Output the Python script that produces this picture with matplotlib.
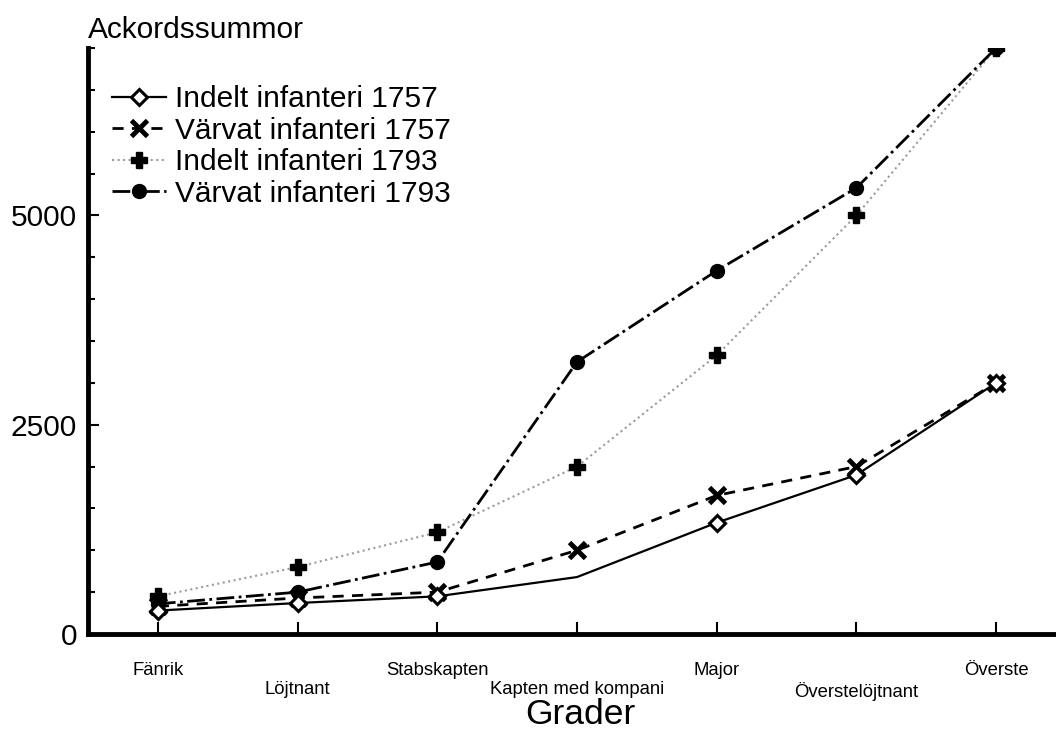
import matplotlib.pyplot as plt
from matplotlib.ticker import MultipleLocator

plt.rcParams['font.family'] = ['Liberation Sans', 'DejaVu Sans']

# Data
grader = ["Fänrik", "Löjtnant", "Stabskapten", "Kapten med kompani",
          "Major", "Överstelöjtnant", "Överste"]
indelt_1757 = [280, 370, 450, 680, 1330, 1900, 3000]
varvat_1757 = [330, 430, 500, 1000, 1655, 2000, 3000]
indelt_1793 = [450, 800, 1215, 2000, 3330, 5000, 7000]
varvat_1793 = [360, 500, 860, 3250, 4340, 5330, 7000]

x = list(range(len(grader)))

fig = plt.figure(figsize=(10.56, 7.29), dpi=100)
ax = fig.add_axes([88/1056, 95/729, 978/1056, 586/729])

ax.plot(x, indelt_1793, color="#9a9a9a", linestyle=":", linewidth=1.5,
        marker="P", markersize=11, markerfacecolor="black",
        markeredgecolor="black", label="Indelt infanteri 1793")
ax.plot(x, varvat_1793, color="black", linestyle="-.", linewidth=2,
        marker="o", markersize=10, label="Värvat infanteri 1793")
ax.plot(x, varvat_1757, color="black", linestyle="--", linewidth=2,
        dashes=(4, 3), marker="x", markersize=12, markeredgewidth=3.5,
        label="Värvat infanteri 1757")
ax.plot(x, indelt_1757, color="black", linestyle="-", linewidth=1.6,
        marker="D", markersize=8, markerfacecolor="white",
        markeredgewidth=2.2, markevery=[0, 1, 2, 4, 5, 6],
        label="Indelt infanteri 1757")

ax.set_xlim(-0.5, 6.5)
ax.set_ylim(0, 7000)

for s in ["top", "right"]:
    ax.spines[s].set_visible(False)
ax.spines["left"].set_linewidth(3.5)
ax.spines["bottom"].set_linewidth(3.5)

ax.yaxis.set_major_locator(MultipleLocator(2500))
ax.yaxis.set_minor_locator(MultipleLocator(500))
ax.tick_params(axis="y", which="major", direction="in", length=8,
               width=1.5, labelsize=21.5, pad=8)
ax.tick_params(axis="y", which="minor", direction="in", length=5, width=1.5)

labels = [g if i % 2 == 0 else "\n" + g for i, g in enumerate(grader)]
ax.set_xticks(x)
ax.set_xticklabels(labels, fontsize=13.3, linespacing=1.2)
ax.tick_params(axis="x", direction="in", length=9, width=1.5, pad=20)

fig.text(580/1056, 1 - 714/729, "Grader", fontsize=25.5,
         ha="center", va="center")
fig.text(88/1056, 1 - 30/729, "Ackordssummor", fontsize=21.5,
         ha="left", va="center")

h, l = ax.get_legend_handles_labels()
order = [3, 2, 0, 1]
ax.legend([h[i] for i in order], [l[i] for i in order],
          loc="upper left", bbox_to_anchor=(112/1056, 1 - 85/729),
          bbox_transform=fig.transFigure, frameon=False, fontsize=21.5,
          labelspacing=0.12, handlelength=1.8, handletextpad=0.3,
          borderpad=0, borderaxespad=0)

fig.savefig("out.png", dpi=100)
